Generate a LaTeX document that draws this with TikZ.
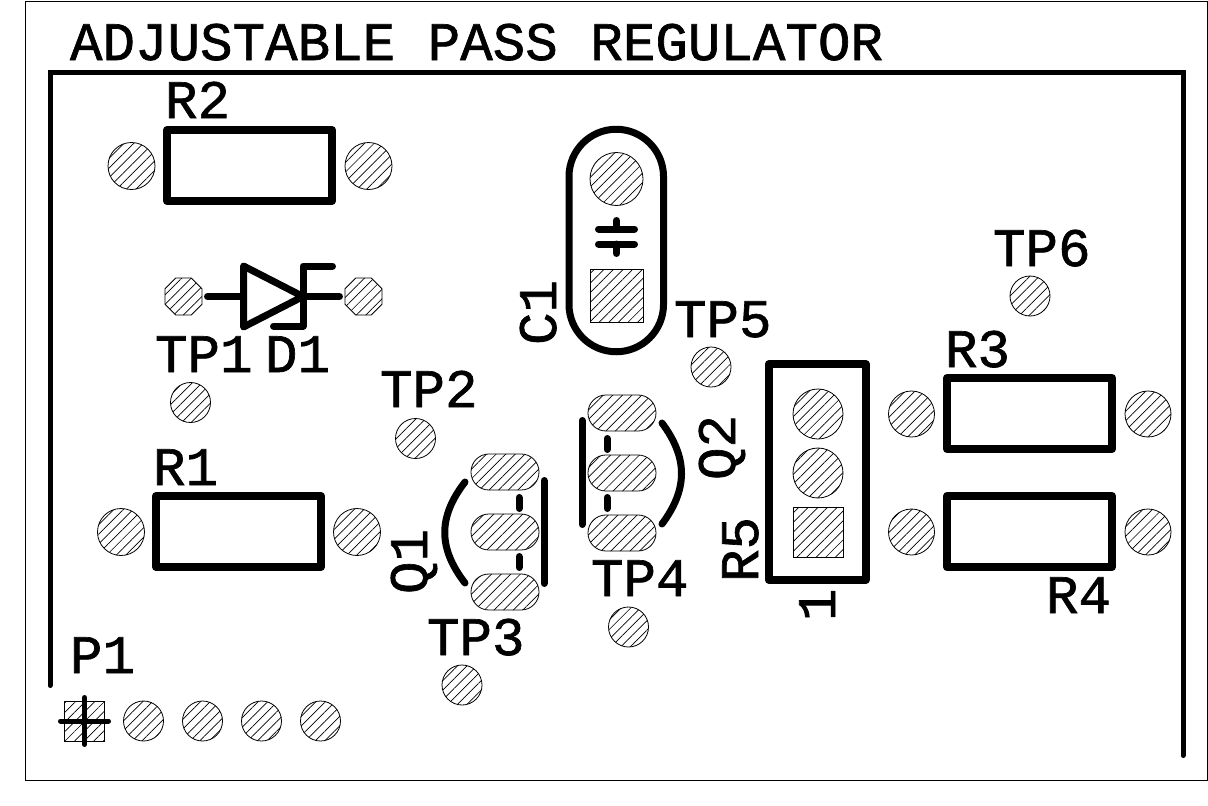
\documentclass[tikz,border=0pt]{standalone}
\usepackage{fontspec}
\setmainfont[FakeBold=1.2]{Liberation Mono}
\usetikzlibrary{patterns.meta,shapes.geometric}
\tikzset{
  hatch/.style={draw=black,line width=0.8pt,pattern={Lines[angle=45,distance=6.8pt,line width=0.7pt]},pattern color=black},
  heavy/.style={draw=black,line width=7pt,line cap=round,line join=round},
  boxline/.style={heavy,line width=8pt},
  medium/.style={draw=black,line width=5pt,line cap=round,line join=round},
  lbl/.style={anchor=base west,inner sep=0pt,outer sep=0pt,font=\fontsize{54.2}{55}\selectfont,text=black},
  vlbl/.style={lbl,rotate=90},
}
\newcommand{\roundpad}[4]{\path[hatch] (#2,#3) circle[radius=#4] coordinate (#1);}
\newcommand{\sqpad}[4]{\path[hatch] (#2-#4,#3-#4) rectangle (#2+#4,#3+#4);\coordinate (#1) at (#2,#3);}
\newcommand{\oblong}[3]{\path[hatch,rounded corners=17.9pt] (#2-34,#3-18) rectangle (#2+34,#3+18);\coordinate (#1) at (#2,#3);}
\newcommand{\octpad}[3]{\path[hatch] (#2+18.5,#3-7.7)--(#2+18.5,#3+7.7)--(#2+7.7,#3+18.5)--(#2-7.7,#3+18.5)--(#2-18.5,#3+7.7)--(#2-18.5,#3-7.7)--(#2-7.7,#3-18.5)--(#2+7.7,#3-18.5)--cycle;\coordinate (#1) at (#2,#3);}
\begin{document}
\begin{tikzpicture}[x=1pt,y=-1pt]
\useasboundingbox (0,0) rectangle (1208,806);
\draw[black,line width=1pt] (25.5,1) -- (1207,1) -- (1207,780) -- (25.5,780) -- cycle;
\draw[medium,line join=miter] (50,685.5) -- (50,72) -- (1183,72) -- (1183,755.5);
% title and labels
\node[lbl] (title) at (70,60) {ADJUSTABLE PASS REGULATOR};
\node[lbl] (tR2) at (165,118) {R2};
\node[lbl] (tR1) at (153,485) {R1};
\node[lbl] (tP1) at (70,673) {P1};
\node[lbl] (tTP1) at (155,372) {TP1};
\node[lbl] (tD1) at (265,372) {D1};
\node[lbl] (tTP2) at (380,407) {TP2};
\node[lbl] (tTP3) at (427,655) {TP3};
\node[lbl] (tTP4) at (591,596) {TP4};
\node[lbl] (tTP5) at (674,337) {TP5};
\node[lbl] (tTP6) at (993,266) {TP6};
\node[lbl] (tR3) at (945,367) {R3};
\node[lbl] (tR4) at (1046,613) {R4};
\node[vlbl] (tQ1) at (427,594) {Q1};
\node[vlbl] (tC1) at (556,345) {C1};
\node[vlbl] (tQ2) at (735,480) {Q2};
\node[vlbl] (tR5) at (758,582) {R5};
\node[vlbl] (tone) at (835,621) {1};
% resistors
\roundpad{r2a}{131.5}{166}{23.5}\roundpad{r2b}{368.5}{166}{23.5}
\path[boxline] (167,130) rectangle (332,201);
\roundpad{r1a}{121}{532}{23.5}\roundpad{r1b}{357}{532}{23.5}
\path[boxline] (156,496) rectangle (321,567);
\roundpad{r3a}{911.5}{414}{23}\roundpad{r3b}{1148}{414}{23}
\path[boxline] (947,378) rectangle (1112,449);
\roundpad{r4a}{911.5}{532}{23}\roundpad{r4b}{1148}{532}{23}
\path[boxline] (947,496) rectangle (1112,567);
% diode
\octpad{da}{183.5}{296.5}\octpad{db}{363.5}{296.5}
\path[heavy] (243.5,266) -- (243.5,327) -- (303,296.5) -- cycle;
\path[heavy] (207.5,296.5) -- (243.5,296.5);
\path[heavy] (303,296.5) -- (339.5,296.5);
\path[heavy] (332.5,266) -- (303,266) -- (303,326) -- (273.5,326);
% capacitor
\path[heavy] (569,176.5) arc[start angle=180,end angle=360,radius=47.25] -- (663.5,304.5) arc[start angle=0,end angle=180,radius=47.25] -- cycle;
\roundpad{c1a}{616.5}{179}{26.5}\sqpad{c1b}{616.5}{296}{26.5}
\path[heavy] (598.5,229) -- (634.5,229);
\path[heavy] (598.5,244) -- (634.5,244);
\path[heavy] (616.5,220.5) -- (616.5,229);
\path[heavy] (616.5,244) -- (616.5,253.5);
% Q1
\oblong{q1a}{505}{472}\oblong{q1b}{505}{532}\oblong{q1c}{505}{592}
\path[heavy] (544,480.5) -- (544,583.5);
\path[heavy] (519,497.5) -- (519,508.5);
\path[heavy] (519,556.5) -- (519,567.5);
\path[heavy] (465,482) .. controls (438,517) and (438,548) .. (465,583);
% Q2
\oblong{q2a}{622}{413}\oblong{q2b}{622}{473}\oblong{q2c}{622}{533}
\path[heavy] (582,420.5) -- (582,524.5);
\path[heavy] (607,438.5) -- (607,449.5);
\path[heavy] (607,497.5) -- (607,508.5);
\path[heavy] (662,423) .. controls (688,458) and (688,489) .. (662,524);
% R5
\path[boxline] (769,364) rectangle (865.5,580);
\roundpad{r5a}{818}{414}{25}\roundpad{r5b}{818}{473}{25}\sqpad{r5c}{818}{532}{25}
% test points
\roundpad{tp1}{190.5}{402.5}{20}
\roundpad{tp2}{415.5}{438.5}{20}
\roundpad{tp3}{462}{685}{20}
\roundpad{tp4}{628.5}{627}{20}
\roundpad{tp5}{711}{367}{20}
\roundpad{tp6}{1030}{296}{20}
% P1
\sqpad{p1a}{84.5}{721}{20}
\roundpad{p1b}{143.5}{721}{20}\roundpad{p1c}{202.5}{721}{20}\roundpad{p1d}{261.5}{721}{20}\roundpad{p1e}{320.5}{721}{20}
\path[medium] (60.5,721) -- (108.5,721);
\path[medium] (84.5,697.5) -- (84.5,744.5);
\end{tikzpicture}
\end{document}
